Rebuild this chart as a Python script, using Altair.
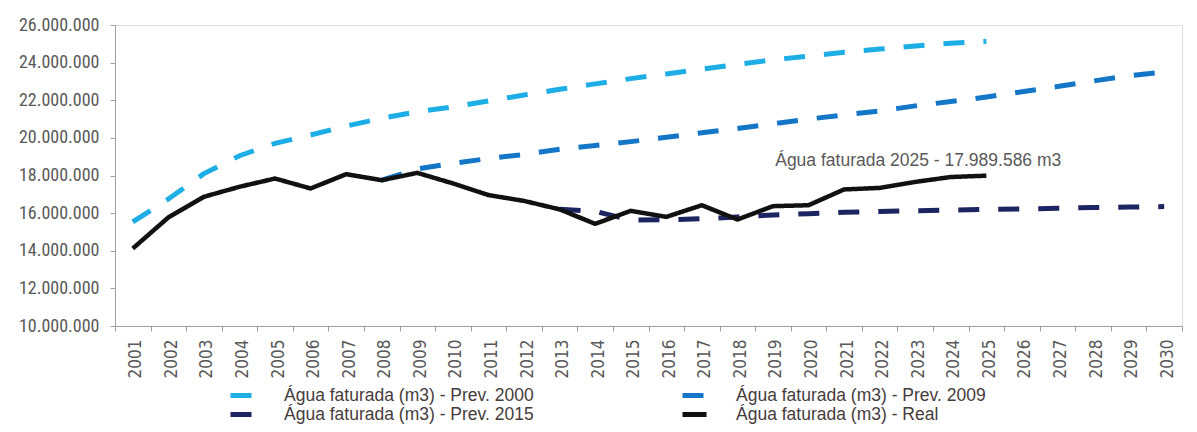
import altair as alt
import pandas as pd

years = [str(y) for y in range(2001, 2031)]

S2000 = "Água faturada (m3) - Prev. 2000"
S2009 = "Água faturada (m3) - Prev. 2009"
S2015 = "Água faturada (m3) - Prev. 2015"
SREAL = "Água faturada (m3) - Real"
legend_order = [S2000, S2015, S2009, SREAL]
legend_colors = ["#1eaee6", "#1c2462", "#1476c6", "#111111"]
legend_dashes = [[21, 19], [21, 19], [21, 19], [1, 0]]

prev2000_years = years[0:25]
prev2000 = [15530000, 16750000, 18100000, 19050000, 19710000, 20150000, 20630000,
            21040000, 21390000, 21640000, 21960000, 22280000, 22580000, 22870000,
            23150000, 23400000, 23650000, 23900000, 24150000, 24350000, 24550000,
            24720000, 24880000, 25030000, 25130000]

prev2009_years = years[7:30]
prev2009 = [17750000, 18350000, 18650000, 18900000, 19120000, 19400000, 19600000,
            19800000, 20030000, 20270000, 20500000, 20750000, 21000000, 21220000,
            21430000, 21700000, 21930000, 22170000, 22450000, 22730000, 23020000,
            23300000, 23500000]

prev2015_years = years[12:30]
prev2015 = [16200000, 16100000, 15630000, 15650000, 15700000, 15800000, 15900000,
            15970000, 16040000, 16090000, 16130000, 16160000, 16200000, 16220000,
            16260000, 16300000, 16320000, 16350000]

real_years = years[0:25]
real = [14120000, 15770000, 16870000, 17400000, 17840000, 17310000, 18070000,
        17750000, 18140000, 17580000, 16960000, 16650000, 16200000, 15430000,
        16120000, 15800000, 16420000, 15660000, 16370000, 16420000, 17260000,
        17340000, 17660000, 17920000, 17989586]

y_ticks = [10000000, 12000000, 14000000, 16000000, 18000000, 20000000,
           22000000, 24000000, 26000000]

annotation_text = ["Água faturada 2025 - 17.989.586 m3"]
annotation_year = ["2023"]
annotation_value = [17989586]

rows = []
for name, yrs, vals in [(S2000, prev2000_years, prev2000),
                        (S2009, prev2009_years, prev2009),
                        (S2015, prev2015_years, prev2015),
                        (SREAL, real_years, real)]:
    for yy, vv in zip(yrs, vals):
        rows.append({"ano": yy, "valor": vv, "serie": name})
df = pd.DataFrame(rows)

FONT_Y = "Roboto Condensed"
FONT_X = "DejaVu Sans Condensed"
FONT = "Liberation Sans"

x_enc = alt.X(
    "ano:O",
    bandPosition=0.5,
    scale=alt.Scale(type="band", domain=years, paddingInner=0, paddingOuter=0),
    axis=alt.Axis(
        title=None, labelAngle=270, tickBand="extent", labelFont=FONT_X,
        labelFontSize=17, labelColor="#595959", domainColor="#a0a0a0",
        tickColor="#a0a0a0", tickSize=5, labelPadding=8, labelOffset=3,
        grid=False,
    ),
)
y_enc = alt.Y(
    "valor:Q",
    scale=alt.Scale(domain=[10000000, 26000000], nice=False, zero=False),
    axis=alt.Axis(
        title=None, values=y_ticks, format=",.0f", labelFont=FONT_Y,
        labelFontSize=18, labelColor="#595959", domainColor="#a0a0a0",
        tickColor="#a0a0a0", tickSize=5, labelPadding=11, grid=False,
    ),
)
legend = alt.Legend(
    title=None, orient="none", legendX=113, legendY=361, columns=2,
    symbolType="stroke", symbolSize=576, symbolStrokeWidth=5,
    labelFont=FONT, labelFontSize=17.5, labelColor="#463c3c", labelOffset=27,
    columnPadding=146, rowPadding=0, clipHeight=19, padding=0, labelLimit=500,
)
color_enc = alt.Color("serie:N", scale=alt.Scale(domain=legend_order, range=legend_colors), legend=legend)
dash_enc = alt.StrokeDash(
    "serie:N",
    scale=alt.Scale(domain=legend_order, range=legend_dashes),
    legend=legend,
)

base = alt.Chart(df).encode(x=x_enc, y=y_enc, color=color_enc, strokeDash=dash_enc)

dashed = base.transform_filter(alt.datum.serie != SREAL).mark_line(strokeWidth=5)
solid = base.transform_filter(alt.datum.serie == SREAL).mark_line(strokeWidth=4.5, strokeJoin="round")

ann_df = pd.DataFrame({"ano": annotation_year, "valor": annotation_value, "t": annotation_text})
ann = alt.Chart(ann_df).mark_text(
    font=FONT, fontSize=17.5, color="#595959", align="center", baseline="alphabetic", dx=3, dy=-10
).encode(x=x_enc, y=y_enc, text="t:N")

chart = alt.layer(dashed, solid, ann).properties(
    width=1067, height=301,
    autosize=alt.AutoSizeParams(type="none"),
    padding={"left": 107, "top": 17, "right": 2, "bottom": 98},
).configure_view(stroke=None).configure(
    locale={"number": {"decimal": ",", "thousands": ".", "grouping": [3], "currency": ["R$", ""]}}
)

chart.save("out.html", embed_options={"renderer": "svg", "actions": False})
